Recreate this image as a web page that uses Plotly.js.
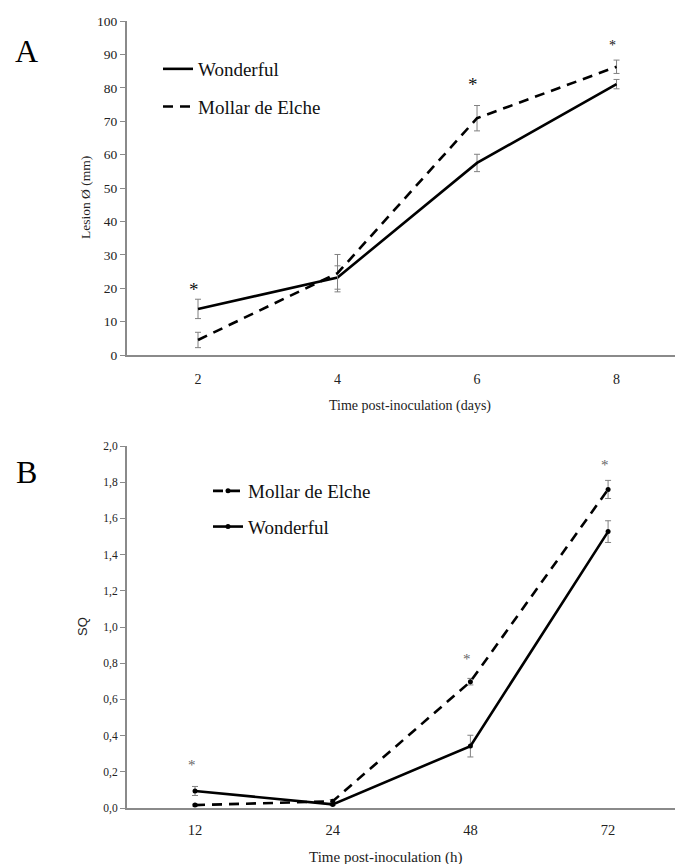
<!DOCTYPE html>
<html>
<head>
<meta charset="utf-8">
<script src="https://cdn.plot.ly/plotly-3.0.1.min.js"></script>
<style>html,body{margin:0;padding:0;background:#fff;}#chart{width:675px;height:864px;}</style>
</head>
<body>
<div id="chart"></div>
<script>
// Panel A: lesion diameter (mm) vs days
const daysA = ["2", "4", "6", "8"];
const wonderfulA = [13.8, 23.2, 57.5, 81.1];
const wonderfulAerr = [2.9, 3.5, 2.6, 1.4];
const mollarA = [4.5, 24.5, 70.9, 86.3];
const mollarAerr = [2.3, 5.6, 3.8, 2.0];
const sigA_x = ["2", "6", "8"];
const sigA_y = [19.5, 81.0, 92.8];
const sigA_size = [19, 19, 14];

// Panel B: SQ vs hours
const hoursB = ["12", "24", "48", "72"];
const mollarB = [0.016, 0.037, 0.698, 1.76];
const mollarBerr = [0.005, 0.01, 0.018, 0.05];
const wonderfulB = [0.094, 0.02, 0.342, 1.527];
const wonderfulBerr = [0.025, 0.006, 0.06, 0.06];
const sigB_x = ["12", "48", "72"];
const sigB_y = [0.235, 0.825, 1.895];

const serif = "Liberation Serif";
const errStyle = {type: 'data', color: '#808080', thickness: 1, width: 3, visible: true};

const traces = [
  {x: daysA, y: wonderfulA, xaxis: 'x', yaxis: 'y', name: 'Wonderful', mode: 'lines',
   line: {color: '#000', width: 2.6}, error_y: Object.assign({array: wonderfulAerr}, errStyle),
   legend: 'legend', legendgroup: 'a1'},
  {x: daysA, y: mollarA, xaxis: 'x', yaxis: 'y', name: 'Mollar de Elche', mode: 'lines',
   line: {color: '#000', width: 2.6, dash: '10px,7px'}, error_y: Object.assign({array: mollarAerr}, errStyle),
   legend: 'legend', legendgroup: 'a2'},
  {x: hoursB, y: mollarB, xaxis: 'x2', yaxis: 'y2', name: 'Mollar de Elche', mode: 'lines+markers',
   line: {color: '#000', width: 2.6, dash: '10px,7px'}, marker: {color: '#000', size: 5},
   error_y: Object.assign({array: mollarBerr}, errStyle), legend: 'legend2', legendgroup: 'b1'},
  {x: hoursB, y: wonderfulB, xaxis: 'x2', yaxis: 'y2', name: 'Wonderful', mode: 'lines+markers',
   line: {color: '#000', width: 2.6}, marker: {color: '#000', size: 5},
   error_y: Object.assign({array: wonderfulBerr}, errStyle), legend: 'legend2', legendgroup: 'b2'}
];

const W = 675, H = 864;
const px = v => v / W;
const py = v => 1 - v / H;

const annotations = [];
sigA_x.forEach((xv, i) => annotations.push({x: daysA.indexOf(xv), y: sigA_y[i], xref: 'x', yref: 'y', text: '*',
  showarrow: false, font: {family: serif, size: sigA_size[i], color: '#111'}, xshift: -4}));
sigB_x.forEach((xv, i) => annotations.push({x: hoursB.indexOf(xv), y: sigB_y[i], xref: 'x2', yref: 'y2', text: '*',
  showarrow: false, font: {family: serif, size: 15, color: '#666'}, xshift: -3}));
const paperNote = (x, y, text, font, angle) => ({x: px(x), y: py(y), xref: 'paper', yref: 'paper', text: text,
  showarrow: false, xanchor: 'center', yanchor: 'middle', textangle: angle || 0, font: font});
annotations.push(
  paperNote(26, 51, 'A', {family: serif, size: 32, color: '#000'}),
  paperNote(26, 472, 'B', {family: serif, size: 32, color: '#000'}),
  paperNote(410, 406, 'Time post-inoculation (days)', {family: serif, size: 14, color: '#222'}),
  paperNote(386, 857, 'Time post-inoculation (h)', {family: serif, size: 15, color: '#222'}),
  paperNote(85, 197, 'Lesion Ø (mm)', {family: serif, size: 13.5, color: '#222'}, -90),
  paperNote(82, 627, 'SQ', {family: 'Liberation Sans', size: 13, color: '#222'}, -90)
);

const tickFont = {family: serif, size: 13.5, color: '#222'};
const layout = {
  width: W, height: H,
  margin: {l: 0, r: 0, t: 0, b: 0},
  paper_bgcolor: '#fff', plot_bgcolor: '#fff',
  font: {family: serif},
  separators: ',.',
  showlegend: true,
  xaxis: {domain: [px(127), 1], anchor: 'y', type: 'category', range: [-0.509, 3.419],
    showline: true, linecolor: '#8a8a8a', linewidth: 2, ticks: '', showgrid: false, zeroline: false,
    ticklabelstandoff: 10, tickfont: {family: serif, size: 14, color: '#222'}},
  yaxis: {domain: [py(355), py(21)], anchor: 'x', range: [0, 100], dtick: 10,
    showline: true, linecolor: '#8a8a8a', linewidth: 2, ticks: 'outside', ticklen: 5, tickcolor: '#8a8a8a',
    showgrid: false, zeroline: false, tickfont: tickFont},
  xaxis2: {domain: [px(127), 1], anchor: 'y2', type: 'category', range: [-0.494, 3.486],
    showline: true, linecolor: '#8a8a8a', linewidth: 2, ticks: '', showgrid: false, zeroline: false,
    ticklabelstandoff: 8, tickfont: {family: serif, size: 14.5, color: '#222'}},
  yaxis2: {domain: [py(808), py(446)], anchor: 'x2', range: [0, 2], dtick: 0.2, tickformat: '.1f',
    showline: true, linecolor: '#8a8a8a', linewidth: 2, ticks: 'outside', ticklen: 5, tickcolor: '#8a8a8a',
    showgrid: false, zeroline: false, tickfont: {family: serif, size: 11.5, color: '#222'}},
  legend: {x: px(158), y: py(50), xanchor: 'left', yanchor: 'top', bgcolor: 'rgba(0,0,0,0)',
    font: {family: serif, size: 19, color: '#111'}, traceorder: 'grouped', tracegroupgap: 10},
  legend2: {x: px(208), y: py(472), xanchor: 'left', yanchor: 'top', bgcolor: 'rgba(0,0,0,0)',
    font: {family: serif, size: 19, color: '#111'}, traceorder: 'grouped', tracegroupgap: 8},
  annotations: annotations
};

Plotly.newPlot('chart', traces, layout, {displayModeBar: false, staticPlot: true});
</script>
</body>
</html>
